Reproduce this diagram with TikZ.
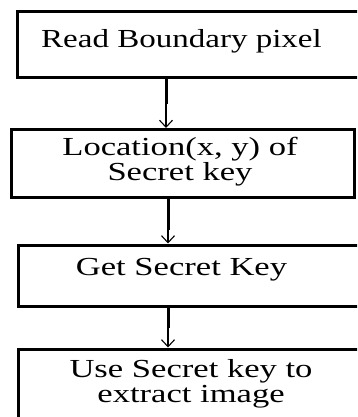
\documentclass[tikz,border=0pt]{standalone}
\usepackage{graphicx}
\usepackage{fontspec}
\setmainfont{Liberation Serif}
\usetikzlibrary{arrows.meta}
% horizontally widened text, as set in the flow chart
\newcommand{\widetext}[2][1.33]{\scalebox{#1}[1]{#2}}
\begin{document}
\begin{tikzpicture}[x=1pt,y=-1pt,
  box/.style={draw, line width=3pt, rectangle, inner sep=0pt},
  lbl/.style={font=\fontsize{26}{25}\selectfont, inner sep=0pt, align=center, anchor=base},
  flow/.style={line width=1.1pt, -{Straight Barb[length=7pt,width=13pt,line width=1.1pt]}},
  shaft/.style={line width=3pt}]
\useasboundingbox (0,0) rectangle (357,417);
\clip (0,0) rectangle (357,417);
\fill[white] (0,0) rectangle (357,417);

% boxes of the flow chart
\node[box, minimum width=352.5pt, minimum height=66pt]   (b1) at (193.75,45) {};
\node[box, minimum width=342.5pt, minimum height=67.5pt] (b2) at (182.75,163.25) {};
\node[box, minimum width=352pt,   minimum height=61pt]   (b3) at (194,275.5) {};
\node[box, minimum width=352pt,   minimum height=91pt]   (b4) at (194,394.5) {};

% box texts (the base anchor of a two-line text sits on its last line)
\node[lbl] (t1) at (181.5,48)  {\widetext[1.27]{Read Boundary pixel}};
\node[lbl] (t2) at (180,180)   {\widetext{Location(x, y) of}\\\widetext{Secret key}};
\node[lbl] (t3) at (181.5,275) {\widetext{Get Secret Key}};
\node[lbl] (t4) at (191,402)   {\widetext{Use Secret key to}\\\widetext{extract image}};

% connector columns
\coordinate (c1) at (166,0);
\coordinate (c2) at (168,0);
\coordinate (c3) at (168,0);

% connectors
\draw[flow] (b1.south -| c1) -- (b2.north -| c1);
\draw[shaft, shorten >=24pt] (b1.south -| c1) -- (b2.north -| c1);
\draw[flow] (b2.south -| c2) -- (b3.north -| c2);
\draw[shaft, shorten >=14pt] (b2.south -| c2) -- (b3.north -| c2);
\draw[flow] (b3.south -| c3) -- (b4.north -| c3);
\draw[shaft, shorten >=20pt] (b3.south -| c3) -- (b4.north -| c3);
\end{tikzpicture}
\end{document}
